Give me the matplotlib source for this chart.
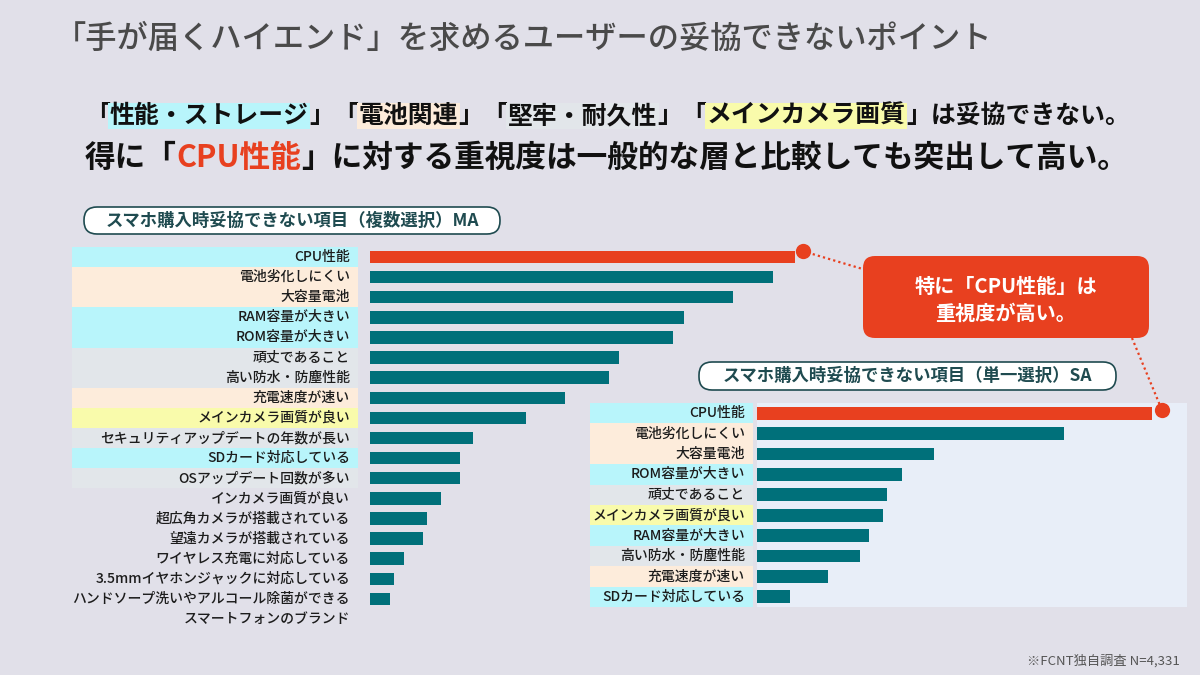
import matplotlib
matplotlib.use("Agg")
import matplotlib.pyplot as plt
from matplotlib.patches import FancyBboxPatch

plt.rcParams['font.family'] = ['Noto Sans CJK JP', 'DejaVu Sans']

W, H = 1200, 675

# data (approx. share in %)
ma_labels = ['CPU性能', '電池劣化しにくい', '大容量電池', 'RAM容量が大きい', 'ROM容量が大きい',
             '頑丈であること', '高い防水・防塵性能', '充電速度が速い', 'メインカメラ画質が良い',
             'セキュリティアップデートの年数が長い', 'SDカード対応している', 'OSアップデート回数が多い',
             'インカメラ画質が良い', '超広角カメラが搭載されている', '望遠カメラが搭載されている',
             'ワイヤレス充電に対応している', '3.5mmイヤホンジャックに対応している',
             'ハンドソープ洗いやアルコール除菌ができる', 'スマートフォンのブランド']
ma_values = [42.5, 40.3, 36.3, 31.4, 30.3, 24.9, 23.9, 19.5, 15.6, 10.3, 9.0, 9.0,
             7.1, 5.7, 5.3, 3.4, 2.4, 2.0, 0.0]
ma_groups = ['perf', 'battery', 'battery', 'perf', 'perf', 'durable', 'durable', 'battery',
             'camera', 'durable', 'perf', 'durable', None, None, None, None, None, None, None]

sa_labels = ['CPU性能', '電池劣化しにくい', '大容量電池', 'ROM容量が大きい', '頑丈であること',
             'メインカメラ画質が良い', 'RAM容量が大きい', '高い防水・防塵性能', '充電速度が速い',
             'SDカード対応している']
sa_values = [39.5, 30.7, 17.7, 14.5, 13.0, 12.6, 11.2, 10.3, 7.1, 3.3]
sa_groups = ['perf', 'battery', 'battery', 'perf', 'durable', 'camera', 'perf', 'durable',
             'battery', 'perf']

group_colors = {'perf': '#b8f5fb', 'battery': '#fdecdb', 'durable': '#e2e6ea', 'camera': '#f9fbab'}
BG = '#e1e0e9'
TEAL = '#00707a'
RED = '#e8401f'
DARK = '#1f4b50'


def px_axes(fig, x0, y0, x1, y1, **kw):
    return fig.add_axes([x0 / W, 1 - y1 / H, (x1 - x0) / W, (y1 - y0) / H], **kw)


def bar_panel(fig, labels, values, groups, lab_box, bar_box, xmax, face=None):
    n = len(labels)
    lab = px_axes(fig, *lab_box)
    lab.set_xlim(0, 1)
    lab.set_ylim(n - 0.5, -0.5)
    lab.axis('off')
    pad = (lab_box[2] - lab_box[0])
    tx = 1 - 8 / pad
    for i, (name, g) in enumerate(zip(labels, groups)):
        if g:
            lab.barh(i, 1, height=1.0, left=0, color=group_colors[g], linewidth=0)
        lab.text(tx, i, name, ha='right', va='center', fontsize=10,
                 fontweight='medium', color='#1c1c1c')

    ax = px_axes(fig, *bar_box)
    colors = [RED if i == 0 else TEAL for i in range(n)]
    ax.barh(range(n), values, height=0.62, color=colors, linewidth=0)
    ax.set_xlim(0, xmax)
    ax.set_ylim(n - 0.5, -0.5)
    for s in ax.spines.values():
        s.set_visible(False)
    ax.set_xticks([])
    ax.set_yticks([])
    if face:
        ax.set_facecolor(face)
    else:
        ax.patch.set_alpha(0)
    return ax


def draw_runs(fig, x, y, runs, size):
    r = fig.canvas.get_renderer()
    for txt, color, bg in runs:
        kw = {}
        if bg:
            kw['bbox'] = dict(boxstyle='square,pad=0.06', fc=bg, ec='none')
        t = fig.text(x / W, 1 - y / H, txt, ha='left', va='baseline', fontsize=size,
                     fontweight='bold', color=color, **kw)
        x = t.get_window_extent(r).x1


fig = plt.figure(figsize=(12, 6.75), dpi=100)
fig.patch.set_facecolor(BG)

fig.text(55 / W, 1 - 48 / H, '「手が届くハイエンド」を求めるユーザーの妥協できないポイント',
         fontsize=22.5, fontweight='medium', color='#4a4a4a', va='baseline', ha='left')

draw_runs(fig, 85, 123, [
    ('「', '#111111', None), ('性能・ストレージ', '#111111', group_colors['perf']),
    ('」「', '#111111', None), ('電池関連', '#111111', group_colors['battery']),
    ('」「', '#111111', None), ('堅牢・耐久性', '#111111', group_colors['durable']),
    ('」「', '#111111', None), ('メインカメラ画質', '#111111', group_colors['camera']),
    ('」は妥協できない。', '#111111', None)], 17.9)
draw_runs(fig, 85, 167, [
    ('得に「', '#111111', None), ('CPU性能', RED, None),
    ('」に対する重視度は一般的な層と比較しても突出して高い。', '#111111', None)], 22.1)

ax_ma = bar_panel(fig, ma_labels, ma_values, ma_groups,
                  (72, 247, 358, 629), (370, 247, 870, 629), 50)
ax_sa = bar_panel(fig, sa_labels, sa_values, sa_groups,
                  (590, 403, 753, 607), (757, 403, 1187, 607), 43, face='#e8eef8')

# overlay in pixel coordinates for boxes and call-out
ov = fig.add_axes([0, 0, 1, 1], zorder=10)
ov.set_xlim(0, W)
ov.set_ylim(H, 0)
ov.axis('off')
ov.patch.set_alpha(0)


def to_px(ax, x, y):
    d = ax.transData.transform((x, y))
    return ov.transData.inverted().transform(d)


def title_box(x0, y0, x1, y1, text):
    ov.add_patch(FancyBboxPatch((x0 + 12, y0), x1 - x0 - 24, y1 - y0,
                                boxstyle='round,pad=0,rounding_size=13',
                                fc='white', ec=DARK, lw=1.2))
    ov.text((x0 + x1) / 2, (y0 + y1) / 2, text, ha='center', va='center',
            fontsize=12.5, fontweight='bold', color=DARK)


title_box(72, 207, 512, 234, 'スマホ購入時妥協できない項目（複数選択）MA')
title_box(687, 362, 1128, 390, 'スマホ購入時妥協できない項目（単一選択）SA')

# call-out
ov.add_patch(FancyBboxPatch((875, 268), 262, 58, boxstyle='round,pad=12',
                            fc=RED, ec='none'))
ov.text(1006, 286, '特に「CPU性能」は', ha='center', va='center', fontsize=14.5,
        fontweight='bold', color='white')
ov.text(1006, 313, '重視度が高い。', ha='center', va='center', fontsize=14.5,
        fontweight='bold', color='white')

d1 = to_px(ax_ma, ma_values[0] + 0.75, -0.3)
d2 = to_px(ax_sa, sa_values[0] + 1.0, -0.15)
ov.plot([d1[0], 866], [d1[1], 270], color=RED, lw=1.6, ls=(0, (1, 1.4)))
ov.plot([1132, d2[0]], [338, d2[1]], color=RED, lw=1.6, ls=(0, (1, 1.4)))
ov.plot([d1[0], d2[0]], [d1[1], d2[1]], 'o', color=RED, ms=11, mec='none')

fig.text(1180 / W, 1 - 665 / H, '※FCNT独自調査 N=4,331', ha='right', va='baseline',
         fontsize=9.5, color='#555555')

fig.savefig('out.png', dpi=100, facecolor=fig.get_facecolor())
